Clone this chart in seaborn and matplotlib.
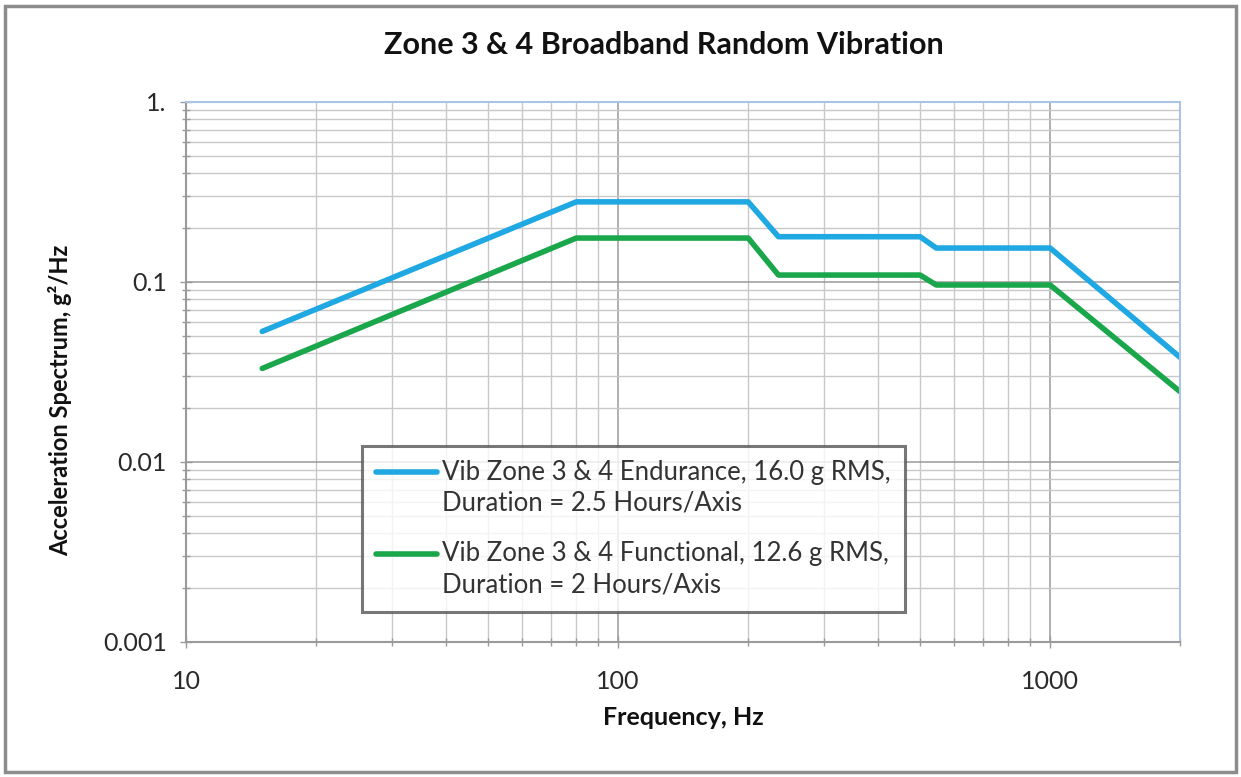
import numpy as np
import pandas as pd
import matplotlib
matplotlib.use("Agg")
import matplotlib.pyplot as plt
import seaborn as sns
from matplotlib.ticker import LogLocator, FixedLocator, FixedFormatter, NullFormatter
from matplotlib.patches import Rectangle
from matplotlib.lines import Line2D
from matplotlib.legend_handler import HandlerLine2D

# Breakpoints of the two PSD profiles
freq_hz = [15, 80, 200, 235, 500, 545, 1000, 2000]
endurance_psd = [0.053, 0.278, 0.278, 0.178, 0.178, 0.154, 0.154, 0.038]
functional_psd = [0.033, 0.175, 0.175, 0.109, 0.109, 0.096, 0.096, 0.0245]

endurance_label = "Vib Zone 3 & 4 Endurance, 16.0 g RMS,\nDuration = 2.5 Hours/Axis"
functional_label = "Vib Zone 3 & 4 Functional, 12.6 g RMS,\nDuration = 2 Hours/Axis"

y_ticks = [0.001, 0.01, 0.1, 1.0]
y_tick_labels = ["0.001", "0.01", "0.1", "1."]
x_ticks = [10, 100, 1000]
x_tick_labels = ["10", "100", "1000"]

df = pd.DataFrame({
    "freq": freq_hz * 2,
    "psd": endurance_psd + functional_psd,
    "profile": [endurance_label] * len(freq_hz) + [functional_label] * len(freq_hz),
})

LEG_LINESPACING = 1.3


# legend handle sits on the first line of a two-line label
class TopLineHandler(HandlerLine2D):
    def create_artists(self, legend, orig_handle, xdescent, ydescent,
                       width, height, fontsize, trans):
        artists = super().create_artists(legend, orig_handle, xdescent, ydescent,
                                         width, height, fontsize, trans)
        for a in artists:
            a.set_ydata(np.asarray(a.get_ydata()) + LEG_LINESPACING / 2 * fontsize)
        return artists


sns.set_style("white")
plt.rcParams['font.family'] = ['Lato', 'DejaVu Sans']

fig = plt.figure(figsize=(12.41, 7.77), dpi=100)
ax = fig.add_axes([0.150, 0.174, 0.801, 0.695])

sns.lineplot(data=df, x="freq", y="psd", hue="profile",
             palette=["#1fa8e1", "#1aa64b"], linewidth=4.0,
             sort=False, ax=ax)

ax.set_xscale("log")
ax.set_yscale("log")
ax.set_xlim(10, 2000)
ax.set_ylim(0.001, 1)

# grid: major darker, minor lighter
ax.xaxis.set_major_locator(FixedLocator(x_ticks))
ax.xaxis.set_major_formatter(FixedFormatter(x_tick_labels))
ax.xaxis.set_minor_locator(LogLocator(base=10, subs=np.arange(2, 10), numticks=20))
ax.xaxis.set_minor_formatter(NullFormatter())
ax.yaxis.set_major_locator(FixedLocator(y_ticks))
ax.yaxis.set_major_formatter(FixedFormatter(y_tick_labels))
ax.yaxis.set_minor_locator(LogLocator(base=10, subs=np.arange(2, 10), numticks=20))
ax.yaxis.set_minor_formatter(NullFormatter())
ax.grid(True, which="major", color="#9a9a9a", linewidth=1.1)
ax.grid(True, which="minor", color="#c8c8c8", linewidth=1.0)
ax.set_axisbelow(True)

ax.tick_params(axis="both", which="both", direction="inout", color="#9a9a9a",
               width=1.0, length=8, labelsize=18, labelcolor="#2a2a2a",
               bottom=True, left=True)
ax.tick_params(axis="both", which="minor", length=6)
ax.tick_params(axis="x", pad=16)
ax.tick_params(axis="y", pad=10)

for side in ["left", "bottom"]:
    ax.spines[side].set_color("#9a9a9a")
    ax.spines[side].set_linewidth(1.5)
for side in ["top", "right"]:
    ax.spines[side].set_color("#a9c4e4")
    ax.spines[side].set_linewidth(1.5)

fig.text(0.535, 0.942, "Zone 3 & 4 Broadband Random Vibration", fontsize=22,
         fontweight="bold", color="#111111", ha="center", va="center")
ax.set_xlabel("Frequency, Hz", fontsize=18, fontweight="bold", color="#111111")
ax.set_ylabel("Acceleration Spectrum, g\u00b2/Hz", fontsize=17,
              fontweight="bold", color="#111111")
ax.xaxis.set_label_coords(0.5, -0.118)
ax.yaxis.set_label_coords(-0.115, 0.448)

leg = ax.legend(loc="lower left", bbox_to_anchor=(0.177, 0.056),
                handler_map={Line2D: TopLineHandler()},
                fontsize=18.5, frameon=True, fancybox=False,
                handlelength=2.35, handletextpad=0.2, labelspacing=1.0,
                borderpad=0.55, borderaxespad=0, title=None)
leg.get_frame().set_edgecolor("#555555")
leg.get_frame().set_linewidth(2.2)
for t in leg.get_texts():
    t.set_color("#333333")
    t.set_linespacing(LEG_LINESPACING)
for h in leg.get_lines():
    h.set_linewidth(4.0)

# outer frame around the chart
fig.patches.append(Rectangle((0.004, 0.006), 0.992, 0.986, transform=fig.transFigure,
                             fill=False, edgecolor="#8c8c8c", linewidth=2.5))

fig.savefig("out.png", dpi=100)
